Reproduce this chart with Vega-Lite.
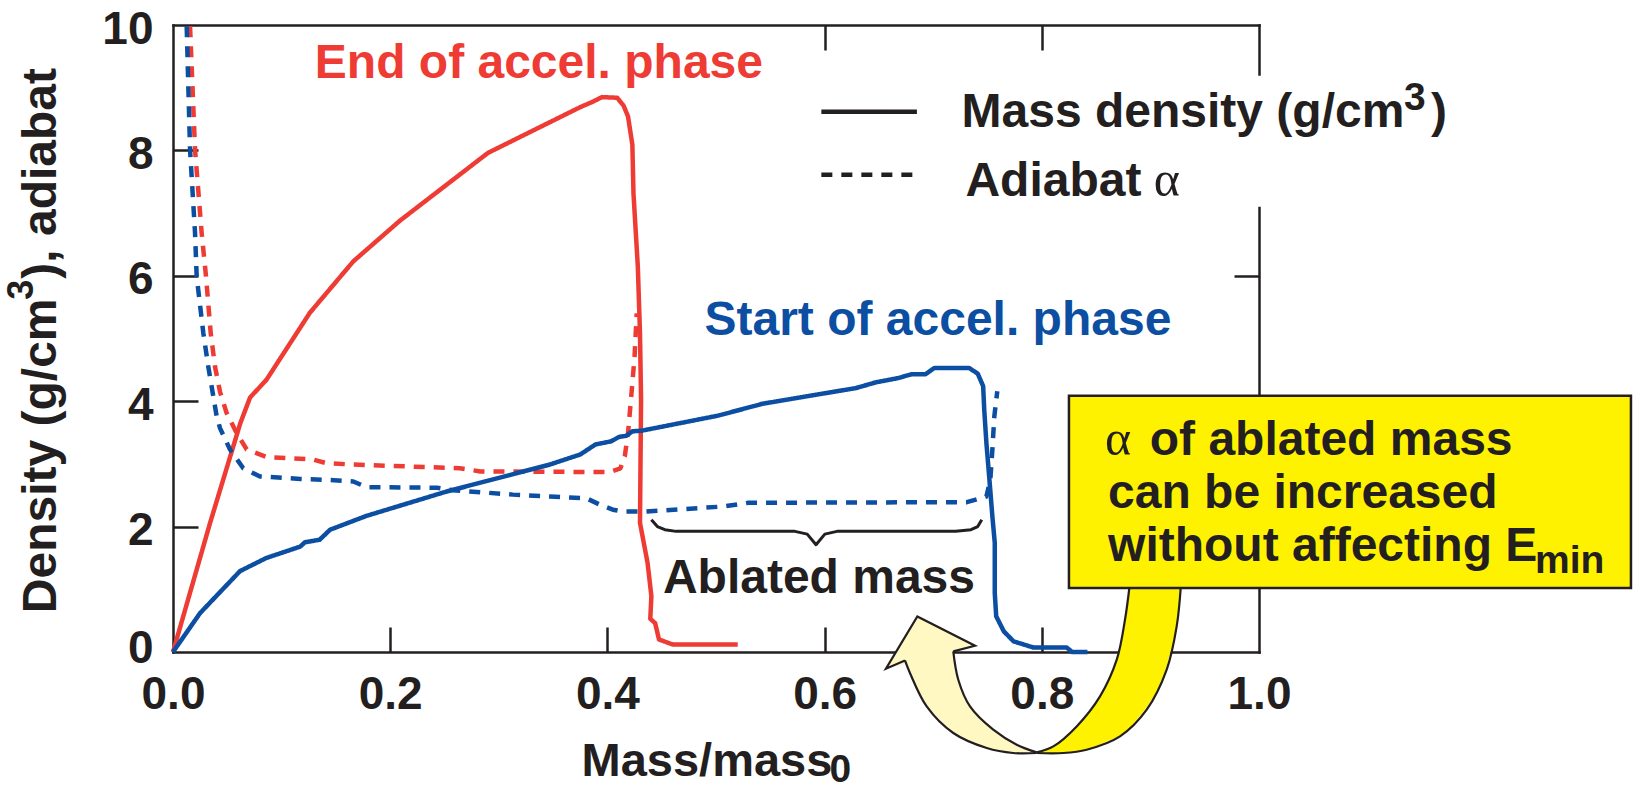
{
  "$schema": "https://vega.github.io/schema/vega-lite/v6.json",
  "width": 1086,
  "height": 627,
  "autosize": {"type": "none"},
  "padding": {"left": 173, "top": 25, "right": 375, "bottom": 137},
  "background": "white",
  "config": {
    "view": {"stroke": null},
    "axis": {
      "labelFont": "Liberation Sans",
      "labelFontSize": 46,
      "labelFontWeight": "bold",
      "labelColor": "#231f20",
      "domainColor": "#231f20",
      "domainWidth": 2.5,
      "domainCap": "square",
      "tickColor": "#231f20",
      "tickWidth": 2.5,
      "grid": false,
      "labelFlush": false,
      "labelOverlap": false
    }
  },
  "resolve": {"axis": {"x": "independent", "y": "independent"}},
  "datasets": {
    "profiles": [
      {"phase": "End of accel. phase", "quantity": "Mass density", "i": 0, "m": 0.0, "d": 0.0},
      {"phase": "End of accel. phase", "quantity": "Mass density", "i": 1, "m": 0.034, "d": 2.05},
      {"phase": "End of accel. phase", "quantity": "Mass density", "i": 2, "m": 0.062, "d": 3.65},
      {"phase": "End of accel. phase", "quantity": "Mass density", "i": 3, "m": 0.071, "d": 4.06},
      {"phase": "End of accel. phase", "quantity": "Mass density", "i": 4, "m": 0.086, "d": 4.34},
      {"phase": "End of accel. phase", "quantity": "Mass density", "i": 5, "m": 0.126, "d": 5.41},
      {"phase": "End of accel. phase", "quantity": "Mass density", "i": 6, "m": 0.166, "d": 6.23},
      {"phase": "End of accel. phase", "quantity": "Mass density", "i": 7, "m": 0.209, "d": 6.88},
      {"phase": "End of accel. phase", "quantity": "Mass density", "i": 8, "m": 0.29, "d": 7.96},
      {"phase": "End of accel. phase", "quantity": "Mass density", "i": 9, "m": 0.375, "d": 8.69},
      {"phase": "End of accel. phase", "quantity": "Mass density", "i": 10, "m": 0.387, "d": 8.78},
      {"phase": "End of accel. phase", "quantity": "Mass density", "i": 11, "m": 0.395, "d": 8.85},
      {"phase": "End of accel. phase", "quantity": "Mass density", "i": 12, "m": 0.409, "d": 8.84},
      {"phase": "End of accel. phase", "quantity": "Mass density", "i": 13, "m": 0.415, "d": 8.71},
      {"phase": "End of accel. phase", "quantity": "Mass density", "i": 14, "m": 0.419, "d": 8.54},
      {"phase": "End of accel. phase", "quantity": "Mass density", "i": 15, "m": 0.423, "d": 8.09},
      {"phase": "End of accel. phase", "quantity": "Mass density", "i": 16, "m": 0.424, "d": 7.32},
      {"phase": "End of accel. phase", "quantity": "Mass density", "i": 17, "m": 0.428, "d": 6.15},
      {"phase": "End of accel. phase", "quantity": "Mass density", "i": 18, "m": 0.43, "d": 5.09},
      {"phase": "End of accel. phase", "quantity": "Mass density", "i": 19, "m": 0.431, "d": 4.02},
      {"phase": "End of accel. phase", "quantity": "Mass density", "i": 20, "m": 0.43, "d": 2.06},
      {"phase": "End of accel. phase", "quantity": "Mass density", "i": 21, "m": 0.437, "d": 1.42},
      {"phase": "End of accel. phase", "quantity": "Mass density", "i": 22, "m": 0.4405, "d": 0.89},
      {"phase": "End of accel. phase", "quantity": "Mass density", "i": 23, "m": 0.4395, "d": 0.53},
      {"phase": "End of accel. phase", "quantity": "Mass density", "i": 24, "m": 0.444, "d": 0.46},
      {"phase": "End of accel. phase", "quantity": "Mass density", "i": 25, "m": 0.4475, "d": 0.2},
      {"phase": "End of accel. phase", "quantity": "Mass density", "i": 26, "m": 0.46, "d": 0.12},
      {"phase": "End of accel. phase", "quantity": "Mass density", "i": 27, "m": 0.52, "d": 0.12},

      {"phase": "End of accel. phase", "quantity": "Adiabat α", "i": 0, "m": 0.0157, "d": 9.98},
      {"phase": "End of accel. phase", "quantity": "Adiabat α", "i": 1, "m": 0.0203, "d": 8.01},
      {"phase": "End of accel. phase", "quantity": "Adiabat α", "i": 2, "m": 0.0264, "d": 6.68},
      {"phase": "End of accel. phase", "quantity": "Adiabat α", "i": 3, "m": 0.0304, "d": 5.99},
      {"phase": "End of accel. phase", "quantity": "Adiabat α", "i": 4, "m": 0.0347, "d": 5.09},
      {"phase": "End of accel. phase", "quantity": "Adiabat α", "i": 5, "m": 0.0387, "d": 4.55},
      {"phase": "End of accel. phase", "quantity": "Adiabat α", "i": 6, "m": 0.0433, "d": 4.15},
      {"phase": "End of accel. phase", "quantity": "Adiabat α", "i": 7, "m": 0.0494, "d": 3.81},
      {"phase": "End of accel. phase", "quantity": "Adiabat α", "i": 8, "m": 0.0587, "d": 3.49},
      {"phase": "End of accel. phase", "quantity": "Adiabat α", "i": 9, "m": 0.0679, "d": 3.23},
      {"phase": "End of accel. phase", "quantity": "Adiabat α", "i": 10, "m": 0.0863, "d": 3.11},
      {"phase": "End of accel. phase", "quantity": "Adiabat α", "i": 11, "m": 0.129, "d": 3.07},
      {"phase": "End of accel. phase", "quantity": "Adiabat α", "i": 12, "m": 0.1415, "d": 3.01},
      {"phase": "End of accel. phase", "quantity": "Adiabat α", "i": 13, "m": 0.166, "d": 2.99},
      {"phase": "End of accel. phase", "quantity": "Adiabat α", "i": 14, "m": 0.264, "d": 2.93},
      {"phase": "End of accel. phase", "quantity": "Adiabat α", "i": 15, "m": 0.283, "d": 2.88},
      {"phase": "End of accel. phase", "quantity": "Adiabat α", "i": 16, "m": 0.402, "d": 2.87},
      {"phase": "End of accel. phase", "quantity": "Adiabat α", "i": 17, "m": 0.412, "d": 2.93},
      {"phase": "End of accel. phase", "quantity": "Adiabat α", "i": 18, "m": 0.416, "d": 3.12},
      {"phase": "End of accel. phase", "quantity": "Adiabat α", "i": 19, "m": 0.419, "d": 3.49},
      {"phase": "End of accel. phase", "quantity": "Adiabat α", "i": 20, "m": 0.423, "d": 4.29},
      {"phase": "End of accel. phase", "quantity": "Adiabat α", "i": 21, "m": 0.425, "d": 4.71},
      {"phase": "End of accel. phase", "quantity": "Adiabat α", "i": 22, "m": 0.427, "d": 5.4},

      {"phase": "Start of accel. phase", "quantity": "Mass density", "i": 0, "m": 0.0, "d": 0.0},
      {"phase": "Start of accel. phase", "quantity": "Mass density", "i": 1, "m": 0.0249, "d": 0.62},
      {"phase": "Start of accel. phase", "quantity": "Mass density", "i": 2, "m": 0.0617, "d": 1.29},
      {"phase": "Start of accel. phase", "quantity": "Mass density", "i": 3, "m": 0.086, "d": 1.5},
      {"phase": "Start of accel. phase", "quantity": "Mass density", "i": 4, "m": 0.117, "d": 1.68},
      {"phase": "Start of accel. phase", "quantity": "Mass density", "i": 5, "m": 0.1215, "d": 1.75},
      {"phase": "Start of accel. phase", "quantity": "Mass density", "i": 6, "m": 0.135, "d": 1.79},
      {"phase": "Start of accel. phase", "quantity": "Mass density", "i": 7, "m": 0.1446, "d": 1.95},
      {"phase": "Start of accel. phase", "quantity": "Mass density", "i": 8, "m": 0.178, "d": 2.17},
      {"phase": "Start of accel. phase", "quantity": "Mass density", "i": 9, "m": 0.252, "d": 2.56},
      {"phase": "Start of accel. phase", "quantity": "Mass density", "i": 10, "m": 0.347, "d": 2.99},
      {"phase": "Start of accel. phase", "quantity": "Mass density", "i": 11, "m": 0.375, "d": 3.15},
      {"phase": "Start of accel. phase", "quantity": "Mass density", "i": 12, "m": 0.389, "d": 3.31},
      {"phase": "Start of accel. phase", "quantity": "Mass density", "i": 13, "m": 0.4035, "d": 3.36},
      {"phase": "Start of accel. phase", "quantity": "Mass density", "i": 14, "m": 0.4106, "d": 3.43},
      {"phase": "Start of accel. phase", "quantity": "Mass density", "i": 15, "m": 0.4176, "d": 3.45},
      {"phase": "Start of accel. phase", "quantity": "Mass density", "i": 16, "m": 0.423, "d": 3.52},
      {"phase": "Start of accel. phase", "quantity": "Mass density", "i": 17, "m": 0.4317, "d": 3.53},
      {"phase": "Start of accel. phase", "quantity": "Mass density", "i": 18, "m": 0.502, "d": 3.77},
      {"phase": "Start of accel. phase", "quantity": "Mass density", "i": 19, "m": 0.543, "d": 3.96},
      {"phase": "Start of accel. phase", "quantity": "Mass density", "i": 20, "m": 0.629, "d": 4.21},
      {"phase": "Start of accel. phase", "quantity": "Mass density", "i": 21, "m": 0.647, "d": 4.3},
      {"phase": "Start of accel. phase", "quantity": "Mass density", "i": 22, "m": 0.668, "d": 4.37},
      {"phase": "Start of accel. phase", "quantity": "Mass density", "i": 23, "m": 0.68, "d": 4.43},
      {"phase": "Start of accel. phase", "quantity": "Mass density", "i": 24, "m": 0.693, "d": 4.43},
      {"phase": "Start of accel. phase", "quantity": "Mass density", "i": 25, "m": 0.701, "d": 4.53},
      {"phase": "Start of accel. phase", "quantity": "Mass density", "i": 26, "m": 0.733, "d": 4.53},
      {"phase": "Start of accel. phase", "quantity": "Mass density", "i": 27, "m": 0.741, "d": 4.44},
      {"phase": "Start of accel. phase", "quantity": "Mass density", "i": 28, "m": 0.746, "d": 4.24},
      {"phase": "Start of accel. phase", "quantity": "Mass density", "i": 29, "m": 0.747, "d": 3.86},
      {"phase": "Start of accel. phase", "quantity": "Mass density", "i": 30, "m": 0.749, "d": 3.33},
      {"phase": "Start of accel. phase", "quantity": "Mass density", "i": 31, "m": 0.752, "d": 2.7},
      {"phase": "Start of accel. phase", "quantity": "Mass density", "i": 32, "m": 0.7545, "d": 2.16},
      {"phase": "Start of accel. phase", "quantity": "Mass density", "i": 33, "m": 0.7567, "d": 1.74},
      {"phase": "Start of accel. phase", "quantity": "Mass density", "i": 34, "m": 0.7567, "d": 0.94},
      {"phase": "Start of accel. phase", "quantity": "Mass density", "i": 35, "m": 0.758, "d": 0.57},
      {"phase": "Start of accel. phase", "quantity": "Mass density", "i": 36, "m": 0.765, "d": 0.33},
      {"phase": "Start of accel. phase", "quantity": "Mass density", "i": 37, "m": 0.774, "d": 0.17},
      {"phase": "Start of accel. phase", "quantity": "Mass density", "i": 38, "m": 0.7925, "d": 0.07},
      {"phase": "Start of accel. phase", "quantity": "Mass density", "i": 39, "m": 0.823, "d": 0.07},
      {"phase": "Start of accel. phase", "quantity": "Mass density", "i": 40, "m": 0.828, "d": 0.0},
      {"phase": "Start of accel. phase", "quantity": "Mass density", "i": 41, "m": 0.842, "d": 0.0},

      {"phase": "Start of accel. phase", "quantity": "Adiabat α", "i": 0, "m": 0.0126, "d": 9.98},
      {"phase": "Start of accel. phase", "quantity": "Adiabat α", "i": 1, "m": 0.0157, "d": 8.01},
      {"phase": "Start of accel. phase", "quantity": "Adiabat α", "i": 2, "m": 0.0203, "d": 6.68},
      {"phase": "Start of accel. phase", "quantity": "Adiabat α", "i": 3, "m": 0.0218, "d": 5.99},
      {"phase": "Start of accel. phase", "quantity": "Adiabat α", "i": 4, "m": 0.0279, "d": 5.09},
      {"phase": "Start of accel. phase", "quantity": "Adiabat α", "i": 5, "m": 0.0325, "d": 4.55},
      {"phase": "Start of accel. phase", "quantity": "Adiabat α", "i": 6, "m": 0.0371, "d": 4.08},
      {"phase": "Start of accel. phase", "quantity": "Adiabat α", "i": 7, "m": 0.0402, "d": 3.76},
      {"phase": "Start of accel. phase", "quantity": "Adiabat α", "i": 8, "m": 0.0433, "d": 3.57},
      {"phase": "Start of accel. phase", "quantity": "Adiabat α", "i": 9, "m": 0.0525, "d": 3.23},
      {"phase": "Start of accel. phase", "quantity": "Adiabat α", "i": 10, "m": 0.0647, "d": 2.93},
      {"phase": "Start of accel. phase", "quantity": "Adiabat α", "i": 11, "m": 0.0801, "d": 2.8},
      {"phase": "Start of accel. phase", "quantity": "Adiabat α", "i": 12, "m": 0.117, "d": 2.76},
      {"phase": "Start of accel. phase", "quantity": "Adiabat α", "i": 13, "m": 0.148, "d": 2.74},
      {"phase": "Start of accel. phase", "quantity": "Adiabat α", "i": 14, "m": 0.166, "d": 2.72},
      {"phase": "Start of accel. phase", "quantity": "Adiabat α", "i": 15, "m": 0.178, "d": 2.63},
      {"phase": "Start of accel. phase", "quantity": "Adiabat α", "i": 16, "m": 0.243, "d": 2.62},
      {"phase": "Start of accel. phase", "quantity": "Adiabat α", "i": 17, "m": 0.258, "d": 2.58},
      {"phase": "Start of accel. phase", "quantity": "Adiabat α", "i": 18, "m": 0.313, "d": 2.51},
      {"phase": "Start of accel. phase", "quantity": "Adiabat α", "i": 19, "m": 0.347, "d": 2.48},
      {"phase": "Start of accel. phase", "quantity": "Adiabat α", "i": 20, "m": 0.381, "d": 2.45},
      {"phase": "Start of accel. phase", "quantity": "Adiabat α", "i": 21, "m": 0.393, "d": 2.35},
      {"phase": "Start of accel. phase", "quantity": "Adiabat α", "i": 22, "m": 0.405, "d": 2.27},
      {"phase": "Start of accel. phase", "quantity": "Adiabat α", "i": 23, "m": 0.414, "d": 2.24},
      {"phase": "Start of accel. phase", "quantity": "Adiabat α", "i": 24, "m": 0.435, "d": 2.24},
      {"phase": "Start of accel. phase", "quantity": "Adiabat α", "i": 25, "m": 0.506, "d": 2.32},
      {"phase": "Start of accel. phase", "quantity": "Adiabat α", "i": 26, "m": 0.53, "d": 2.38},
      {"phase": "Start of accel. phase", "quantity": "Adiabat α", "i": 27, "m": 0.731, "d": 2.39},
      {"phase": "Start of accel. phase", "quantity": "Adiabat α", "i": 28, "m": 0.749, "d": 2.48},
      {"phase": "Start of accel. phase", "quantity": "Adiabat α", "i": 29, "m": 0.7526, "d": 2.75},
      {"phase": "Start of accel. phase", "quantity": "Adiabat α", "i": 30, "m": 0.7545, "d": 3.23},
      {"phase": "Start of accel. phase", "quantity": "Adiabat α", "i": 31, "m": 0.7563, "d": 3.76},
      {"phase": "Start of accel. phase", "quantity": "Adiabat α", "i": 32, "m": 0.759, "d": 4.16}
    ],
    "brace": [
      {"j": 0, "m": 0.4405, "d": 2.11},
      {"j": 1, "m": 0.446, "d": 2.0},
      {"j": 2, "m": 0.4529, "d": 1.951},
      {"j": 3, "m": 0.4634, "d": 1.924},
      {"j": 4, "m": 0.5727, "d": 1.924},
      {"j": 5, "m": 0.584, "d": 1.88},
      {"j": 6, "m": 0.5921, "d": 1.711},
      {"j": 7, "m": 0.6002, "d": 1.88},
      {"j": 8, "m": 0.6114, "d": 1.924},
      {"j": 9, "m": 0.7207, "d": 1.924},
      {"j": 10, "m": 0.7348, "d": 1.951},
      {"j": 11, "m": 0.741, "d": 2.0},
      {"j": 12, "m": 0.7447, "d": 2.11}
    ],
    "legendPanel": [{"m": 0.59, "m2": 1.19, "d": 7.1, "d2": 9.19}],
    "legendKey": [
      {"quantity": "Mass density", "m": 0.597, "m2": 0.685, "d": 8.617},
      {"quantity": "Adiabat α", "m": 0.597, "m2": 0.685, "d": 7.612}
    ],
    "yellowBand": [
      {"d": 1.1, "m": 0.881, "m2": 0.9282},
      {"d": 1.021, "m": 0.8806, "m2": 0.9279},
      {"d": 0.515, "m": 0.8766, "m2": 0.9247},
      {"d": 0.037, "m": 0.8711, "m2": 0.9192},
      {"d": -0.442, "m": 0.861, "m2": 0.9104},
      {"d": -0.761, "m": 0.8513, "m2": 0.9012},
      {"d": -1.08, "m": 0.8375, "m2": 0.8874},
      {"d": -1.319, "m": 0.8232, "m2": 0.8736},
      {"d": -1.478, "m": 0.8126, "m2": 0.8527},
      {"d": -1.558, "m": 0.802, "m2": 0.8413},
      {"d": -1.611, "m": 0.7953, "m2": 0.8198}
    ],
    "paleBand": [
      {"d": 0.037, "m": 0.6703, "m2": 0.7182},
      {"d": -0.123, "m": 0.674, "m2": 0.7196},
      {"d": -0.33, "m": 0.6786, "m2": 0.7214},
      {"d": -0.601, "m": 0.686, "m2": 0.7271},
      {"d": -0.872, "m": 0.694, "m2": 0.7339},
      {"d": -1.08, "m": 0.7063, "m2": 0.7461},
      {"d": -1.287, "m": 0.7182, "m2": 0.7597},
      {"d": -1.431, "m": 0.7364, "m2": 0.7726},
      {"d": -1.526, "m": 0.7486, "m2": 0.7841},
      {"d": -1.574, "m": 0.7615, "m2": 0.791},
      {"d": -1.611, "m": 0.7735, "m2": 0.7953}
    ],
    "paleHead": [
      {"d": 0.5678, "m": 0.6854, "m2": 0.6854},
      {"d": 0.1005, "m": 0.6693, "m2": 0.7385},
      {"d": -0.2663, "m": 0.6565, "m2": 0.6565}
    ],
    "arrowEdges": [
      {"edge": "pale-inner", "k": 0, "m": 0.7185, "d": 0.0096},
      {"edge": "pale-inner", "k": 1, "m": 0.7231, "d": -0.4418},
      {"edge": "pale-inner", "k": 2, "m": 0.7339, "d": -0.8676},
      {"edge": "pale-inner", "k": 3, "m": 0.7553, "d": -1.2392},
      {"edge": "pale-inner", "k": 4, "m": 0.7769, "d": -1.4785},
      {"edge": "pale-inner", "k": 5, "m": 0.7953, "d": -1.6013},
      {"edge": "pale-outer", "k": 0, "m": 0.7953, "d": -1.6108},
      {"edge": "pale-outer", "k": 1, "m": 0.7737, "d": -1.6108},
      {"edge": "pale-outer", "k": 2, "m": 0.7493, "d": -1.5311},
      {"edge": "pale-outer", "k": 3, "m": 0.7185, "d": -1.2919},
      {"edge": "pale-outer", "k": 4, "m": 0.694, "d": -0.8676},
      {"edge": "pale-outer", "k": 5, "m": 0.6786, "d": -0.3349},
      {"edge": "pale-outer", "k": 6, "m": 0.674, "d": -0.134},
      {"edge": "yellow-inner", "k": 0, "m": 0.8806, "d": 1.0207},
      {"edge": "yellow-inner", "k": 1, "m": 0.8766, "d": 0.5152},
      {"edge": "yellow-inner", "k": 2, "m": 0.869, "d": -0.1228},
      {"edge": "yellow-inner", "k": 3, "m": 0.8536, "d": -0.7081},
      {"edge": "yellow-inner", "k": 4, "m": 0.8321, "d": -1.1866},
      {"edge": "yellow-inner", "k": 5, "m": 0.8106, "d": -1.5056},
      {"edge": "yellow-inner", "k": 6, "m": 0.7953, "d": -1.6013},
      {"edge": "yellow-outer", "k": 0, "m": 0.7953, "d": -1.6108},
      {"edge": "yellow-outer", "k": 1, "m": 0.8198, "d": -1.6108},
      {"edge": "yellow-outer", "k": 2, "m": 0.8413, "d": -1.5582},
      {"edge": "yellow-outer", "k": 3, "m": 0.872, "d": -1.3461},
      {"edge": "yellow-outer", "k": 4, "m": 0.8966, "d": -0.9203},
      {"edge": "yellow-outer", "k": 5, "m": 0.915, "d": -0.2823},
      {"edge": "yellow-outer", "k": 6, "m": 0.9242, "d": 0.4083},
      {"edge": "yellow-outer", "k": 7, "m": 0.9279, "d": 1.0207}
    ],
    "headOutline": [
      {"k": 0, "m": 0.7185, "d": 0.0096},
      {"k": 1, "m": 0.7385, "d": 0.0997},
      {"k": 2, "m": 0.6854, "d": 0.5678},
      {"k": 3, "m": 0.6565, "d": -0.2663},
      {"k": 4, "m": 0.674, "d": -0.134}
    ],
    "calloutBox": [{"m": 0.825, "m2": 1.3425, "d": 1.021, "d2": 4.088}],
    "blackText": [
      {"txt": "Ablated mass", "m": 0.4511, "d": 0.941},
      {"txt": "Mass density (g/cm", "m": 0.7261, "d": 8.373},
      {"txt": ")", "m": 1.1584, "d": 8.373},
      {"txt": "Adiabat", "m": 0.7297, "d": 7.266},
      {"txt": "of ablated mass", "m": 0.8994, "d": 3.147},
      {"txt": "can be increased", "m": 0.861, "d": 2.297},
      {"txt": "without affecting E", "m": 0.861, "d": 1.445}
    ],
    "smallText": [
      {"txt": "3", "m": 1.1335, "d": 8.649},
      {"txt": "min", "m": 1.2541, "d": 1.265},
      {"txt": "0", "m": 0.6045, "d": -2.07}
    ],
    "alphaText": [
      {"txt": "α", "m": 0.903, "d": 7.266},
      {"txt": "α", "m": 0.8582, "d": 3.147}
    ],
    "redLabel": [{"txt": "End of accel. phase", "m": 0.1306, "d": 9.159}],
    "blueLabel": [{"txt": "Start of accel. phase", "m": 0.4894, "d": 5.061}],
    "xTitle": [{"txt": "Mass/mass", "m": 0.3762, "d": -1.98}],
    "yTitle": [
      {"txt": "Density (g/cm", "m": -0.1077, "d": 0.6188},
      {"txt": "), adiabat", "m": -0.1077, "d": 5.954}
    ],
    "yTitleSup": [{"txt": "3", "m": -0.1286, "d": 5.619}]
  },
  "layer": [
    {
      "data": {"name": "profiles"},
      "mark": {"type": "line", "strokeWidth": 4.5, "strokeJoin": "round"},
      "encoding": {
        "x": {"field": "m", "type": "quantitative", "scale": {"domain": [0, 1], "nice": false, "zero": false},
              "axis": {"orient": "bottom", "values": [0, 0.2, 0.4, 0.6, 0.8, 1], "format": ".1f", "ticks": false, "tickSize": 0, "labelPadding": 20, "domain": true, "title": null}},
        "y": {"field": "d", "type": "quantitative", "scale": {"domain": [0, 10], "nice": false, "zero": false},
              "axis": {"orient": "left", "values": [0, 2, 4, 6, 8, 10], "format": "d", "ticks": false, "tickSize": 0, "labelPadding": 20,
                       "labelOffset": {"condition": {"test": "datum.value === 0", "value": -4}, "value": 4},
                       "domain": true, "title": null}},
        "color": {"field": "phase", "type": "nominal", "scale": {"domain": ["End of accel. phase", "Start of accel. phase"], "range": ["#EE3B34", "#0B4EA2"]}, "legend": null},
        "strokeDash": {"field": "quantity", "type": "nominal", "scale": {"domain": ["Mass density", "Adiabat α"], "range": [[1, 0], [11, 9]]}, "legend": null},
        "order": {"field": "i", "type": "quantitative"}
      }
    },
    {
      "data": {"name": "brace"},
      "mark": {"type": "line", "strokeWidth": 3, "color": "#231f20", "strokeJoin": "round"},
      "encoding": {
        "x": {"field": "m", "type": "quantitative", "scale": {"domain": [0, 1], "nice": false, "zero": false},
              "axis": {"orient": "bottom", "offset": -25, "values": [0.2, 0.4, 0.6, 0.8], "tickSize": 25, "labels": false, "domain": false, "title": null}},
        "y": {"field": "d", "type": "quantitative", "scale": {"domain": [0, 10], "nice": false, "zero": false},
              "axis": {"orient": "left", "offset": -25, "values": [2, 4, 6, 8], "tickSize": 25, "labels": false, "domain": false, "title": null}},
        "order": {"field": "j", "type": "quantitative"}
      }
    },
    {
      "data": {"name": "legendPanel"},
      "mark": {"type": "rect", "color": "white"},
      "encoding": {
        "x": {"field": "m", "type": "quantitative", "scale": {"domain": [0, 1], "nice": false, "zero": false},
              "axis": {"orient": "top", "ticks": false, "tickSize": 0, "labels": false, "domain": true, "title": null}},
        "x2": {"field": "m2"},
        "y": {"field": "d", "type": "quantitative", "scale": {"domain": [0, 10], "nice": false, "zero": false},
              "axis": {"orient": "right", "ticks": false, "tickSize": 0, "labels": false, "domain": true, "title": null}},
        "y2": {"field": "d2"}
      }
    },
    {
      "data": {"name": "legendKey"},
      "mark": {"type": "rule", "strokeWidth": 4.5, "color": "#231f20"},
      "encoding": {
        "x": {"field": "m", "type": "quantitative", "scale": {"domain": [0, 1], "nice": false, "zero": false}, "axis": null},
        "x2": {"field": "m2"},
        "y": {"field": "d", "type": "quantitative", "scale": {"domain": [0, 10], "nice": false, "zero": false}, "axis": null},
        "strokeDash": {"field": "quantity", "type": "nominal", "legend": null}
      }
    },
    {
      "data": {"name": "yellowBand"},
      "mark": {"type": "area", "orient": "horizontal", "interpolate": "monotone", "color": "#FFF200"},
      "encoding": {
        "y": {"field": "d", "type": "quantitative", "scale": {"domain": [0, 10], "nice": false, "zero": false}, "axis": null},
        "x": {"field": "m", "type": "quantitative", "scale": {"domain": [0, 1], "nice": false, "zero": false}, "axis": null},
        "x2": {"field": "m2"}
      }
    },
    {
      "data": {"name": "paleBand"},
      "mark": {"type": "area", "orient": "horizontal", "interpolate": "monotone", "color": "#FFF8C2"},
      "encoding": {
        "y": {"field": "d", "type": "quantitative", "scale": {"domain": [0, 10], "nice": false, "zero": false}, "axis": null},
        "x": {"field": "m", "type": "quantitative", "scale": {"domain": [0, 1], "nice": false, "zero": false}, "axis": null},
        "x2": {"field": "m2"}
      }
    },
    {
      "data": {"name": "paleHead"},
      "mark": {"type": "area", "orient": "horizontal", "interpolate": "linear", "color": "#FFF8C2"},
      "encoding": {
        "y": {"field": "d", "type": "quantitative", "scale": {"domain": [0, 10], "nice": false, "zero": false}, "axis": null},
        "x": {"field": "m", "type": "quantitative", "scale": {"domain": [0, 1], "nice": false, "zero": false}, "axis": null},
        "x2": {"field": "m2"}
      }
    },
    {
      "data": {"name": "arrowEdges"},
      "mark": {"type": "line", "interpolate": "catmull-rom", "strokeWidth": 2.2, "color": "#231f20", "strokeJoin": "round"},
      "encoding": {
        "x": {"field": "m", "type": "quantitative", "scale": {"domain": [0, 1], "nice": false, "zero": false}, "axis": null},
        "y": {"field": "d", "type": "quantitative", "scale": {"domain": [0, 10], "nice": false, "zero": false}, "axis": null},
        "detail": {"field": "edge", "type": "nominal"},
        "order": {"field": "k", "type": "quantitative"}
      }
    },
    {
      "data": {"name": "headOutline"},
      "mark": {"type": "line", "interpolate": "linear", "strokeWidth": 2.2, "color": "#231f20", "strokeJoin": "miter"},
      "encoding": {
        "x": {"field": "m", "type": "quantitative", "scale": {"domain": [0, 1], "nice": false, "zero": false}, "axis": null},
        "y": {"field": "d", "type": "quantitative", "scale": {"domain": [0, 10], "nice": false, "zero": false}, "axis": null},
        "order": {"field": "k", "type": "quantitative"}
      }
    },
    {
      "data": {"name": "calloutBox"},
      "mark": {"type": "rect", "fill": "#FFF200", "stroke": "#231f20", "strokeWidth": 2.5},
      "encoding": {
        "x": {"field": "m", "type": "quantitative", "scale": {"domain": [0, 1], "nice": false, "zero": false},
              "axis": {"orient": "top", "offset": -25, "values": [0.6, 0.8], "tickSize": 25, "labels": false, "domain": false, "title": null}},
        "x2": {"field": "m2"},
        "y": {"field": "d", "type": "quantitative", "scale": {"domain": [0, 10], "nice": false, "zero": false},
              "axis": {"orient": "right", "offset": -25, "values": [6], "tickSize": 25, "labels": false, "domain": false, "title": null}},
        "y2": {"field": "d2"}
      }
    },
    {
      "data": {"name": "blackText"},
      "mark": {"type": "text", "align": "left", "baseline": "alphabetic", "font": "Liberation Sans", "fontSize": 48, "fontWeight": "bold", "color": "#231f20"},
      "encoding": {
        "x": {"field": "m", "type": "quantitative", "scale": {"domain": [0, 1], "nice": false, "zero": false}, "axis": null},
        "y": {"field": "d", "type": "quantitative", "scale": {"domain": [0, 10], "nice": false, "zero": false}, "axis": null},
        "text": {"field": "txt"}
      }
    },
    {
      "data": {"name": "smallText"},
      "mark": {"type": "text", "align": "left", "baseline": "alphabetic", "font": "Liberation Sans", "fontSize": 39, "fontWeight": "bold", "color": "#231f20"},
      "encoding": {
        "x": {"field": "m", "type": "quantitative", "scale": {"domain": [0, 1], "nice": false, "zero": false}, "axis": null},
        "y": {"field": "d", "type": "quantitative", "scale": {"domain": [0, 10], "nice": false, "zero": false}, "axis": null},
        "text": {"field": "txt"}
      }
    },
    {
      "data": {"name": "alphaText"},
      "mark": {"type": "text", "align": "left", "baseline": "alphabetic", "font": "Liberation Serif", "fontSize": 50, "fontWeight": "normal", "color": "#231f20"},
      "encoding": {
        "x": {"field": "m", "type": "quantitative", "scale": {"domain": [0, 1], "nice": false, "zero": false}, "axis": null},
        "y": {"field": "d", "type": "quantitative", "scale": {"domain": [0, 10], "nice": false, "zero": false}, "axis": null},
        "text": {"field": "txt"}
      }
    },
    {
      "data": {"name": "redLabel"},
      "mark": {"type": "text", "align": "left", "baseline": "alphabetic", "font": "Liberation Sans", "fontSize": 48, "fontWeight": "bold", "color": "#EE3B34"},
      "encoding": {
        "x": {"field": "m", "type": "quantitative", "scale": {"domain": [0, 1], "nice": false, "zero": false}, "axis": null},
        "y": {"field": "d", "type": "quantitative", "scale": {"domain": [0, 10], "nice": false, "zero": false}, "axis": null},
        "text": {"field": "txt"}
      }
    },
    {
      "data": {"name": "blueLabel"},
      "mark": {"type": "text", "align": "left", "baseline": "alphabetic", "font": "Liberation Sans", "fontSize": 48, "fontWeight": "bold", "color": "#0B4EA2"},
      "encoding": {
        "x": {"field": "m", "type": "quantitative", "scale": {"domain": [0, 1], "nice": false, "zero": false}, "axis": null},
        "y": {"field": "d", "type": "quantitative", "scale": {"domain": [0, 10], "nice": false, "zero": false}, "axis": null},
        "text": {"field": "txt"}
      }
    },
    {
      "data": {"name": "xTitle"},
      "mark": {"type": "text", "align": "left", "baseline": "alphabetic", "font": "Liberation Sans", "fontSize": 47, "fontWeight": "bold", "color": "#231f20"},
      "encoding": {
        "x": {"field": "m", "type": "quantitative", "scale": {"domain": [0, 1], "nice": false, "zero": false}, "axis": null},
        "y": {"field": "d", "type": "quantitative", "scale": {"domain": [0, 10], "nice": false, "zero": false}, "axis": null},
        "text": {"field": "txt"}
      }
    },
    {
      "data": {"name": "yTitle"},
      "mark": {"type": "text", "align": "left", "baseline": "alphabetic", "angle": 270, "font": "Liberation Sans", "fontSize": 48, "fontWeight": "bold", "color": "#231f20"},
      "encoding": {
        "x": {"field": "m", "type": "quantitative", "scale": {"domain": [0, 1], "nice": false, "zero": false}, "axis": null},
        "y": {"field": "d", "type": "quantitative", "scale": {"domain": [0, 10], "nice": false, "zero": false}, "axis": null},
        "text": {"field": "txt"}
      }
    },
    {
      "data": {"name": "yTitleSup"},
      "mark": {"type": "text", "align": "left", "baseline": "alphabetic", "angle": 270, "font": "Liberation Sans", "fontSize": 36, "fontWeight": "bold", "color": "#231f20"},
      "encoding": {
        "x": {"field": "m", "type": "quantitative", "scale": {"domain": [0, 1], "nice": false, "zero": false}, "axis": null},
        "y": {"field": "d", "type": "quantitative", "scale": {"domain": [0, 10], "nice": false, "zero": false}, "axis": null},
        "text": {"field": "txt"}
      }
    }
  ]
}
